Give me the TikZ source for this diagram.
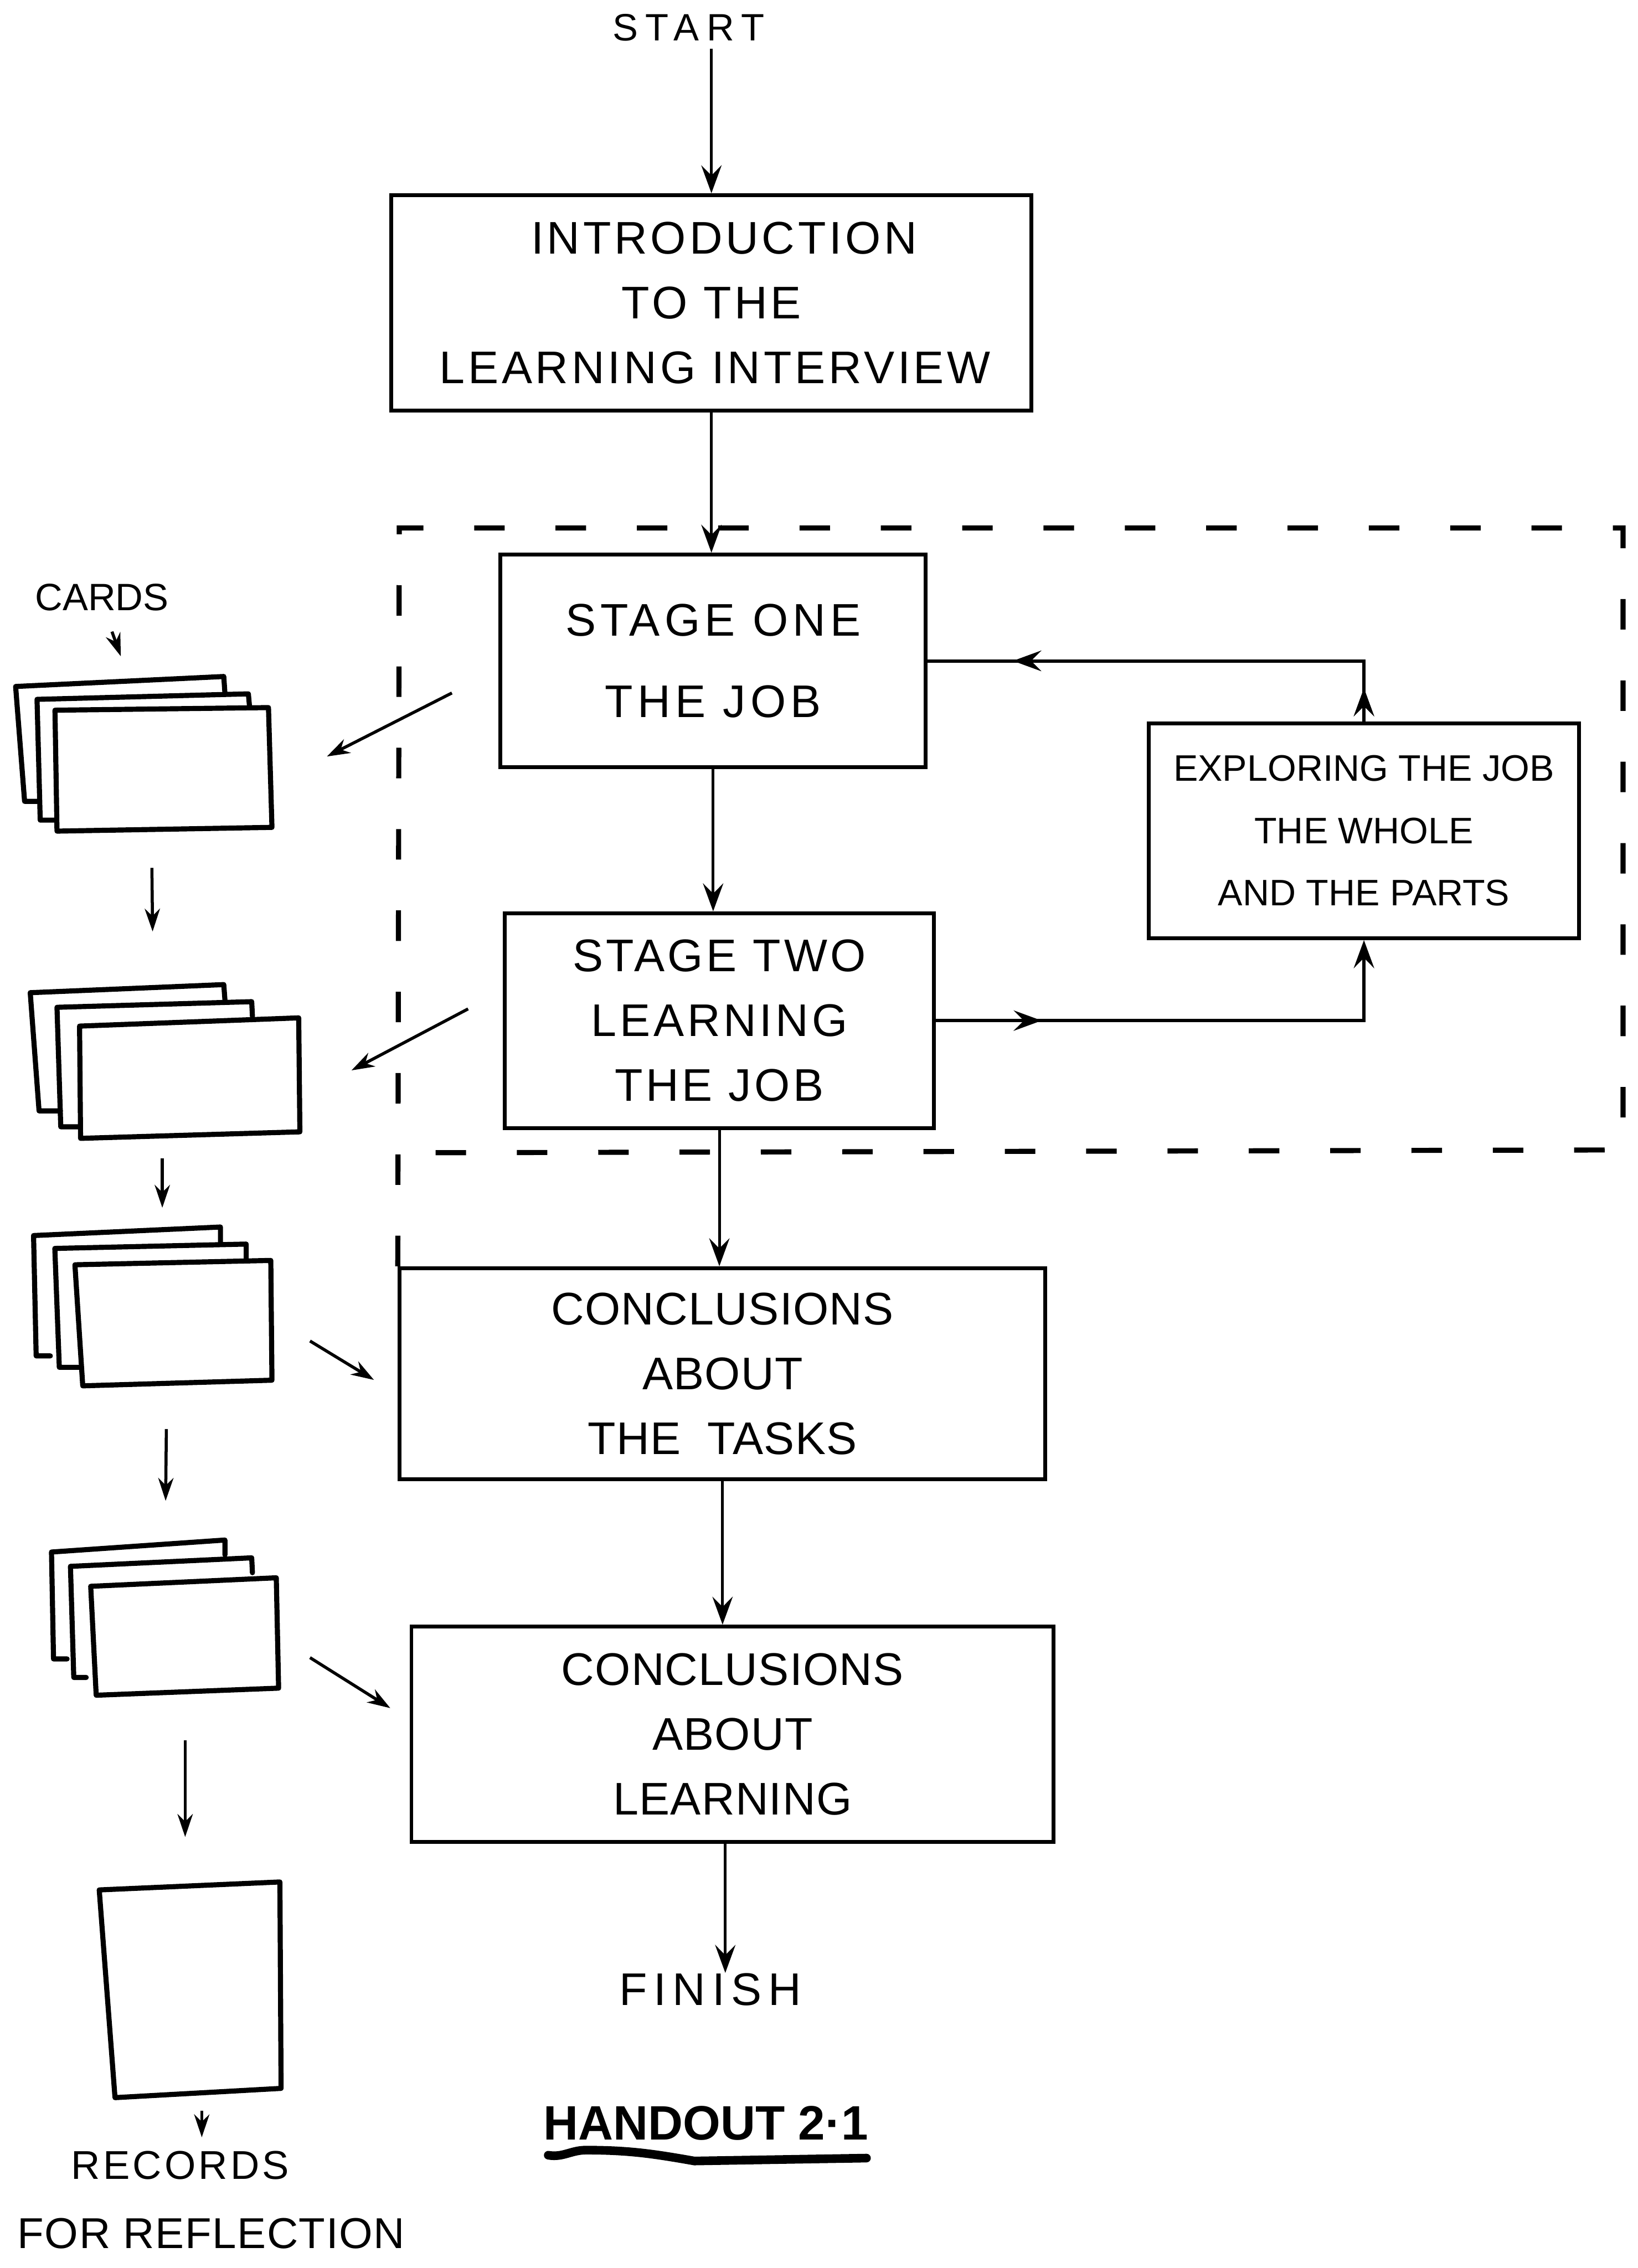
\documentclass[tikz,border=0pt]{standalone}
\usepackage{fontspec}
\setmainfont{Liberation Sans}
\usetikzlibrary{arrows.meta,decorations.markings}

% letter-spaced sans at a given size / line distance / spacing
\newcommand{\handfont}[3]{\fontsize{#1}{#2}\selectfont\addfontfeature{LetterSpace=#3}}

\tikzset{
  box/.style={draw, line width=1.5pt, inner sep=0pt, align=center,
              font=\handfont{18}{25.5}{0}},
  lbl/.style={inner sep=0pt, align=center},
  flow/.style={line width=1.1pt, -{Stealth[length=11pt,width=8pt,inset=4pt]}},
  small/.style={line width=1.2pt, -{Stealth[length=9pt,width=6pt]}},
  card/.style={line width=2pt, line join=round, line cap=round},
  frame/.style={line width=2pt, dash pattern=on 12pt off 20pt},
  midtip/.style={postaction={decorate}, decoration={markings,
      mark=at position #1 with {\arrow{Stealth[length=11pt,width=8pt,inset=4pt]}}}}
}

\begin{document}
\begin{tikzpicture}[x=0.02cm, y=-0.02cm]
  \useasboundingbox (0,0) rectangle (1132,1568);

  % ---- main flow boxes ----
  \node[box, minimum width=8.85cm, minimum height=2.98cm, font=\handfont{18}{25.5}{7}]
       (intro) at (491.8,209.4)
       {\hspace*{0.35cm}INTRODUCTION\\TO THE\\\hspace*{0.1cm}LEARNING INTERVIEW};
  \node[box, minimum width=5.88cm, minimum height=2.94cm, font=\handfont{18}{32}{10}]
       (one) at (493,456.9)
       {STAGE ONE\\THE JOB};
  \node[box, minimum width=5.94cm, minimum height=2.97cm, font=\handfont{18}{25.5}{7}]
       (two) at (497.3,705.6)
       {STAGE TWO\\LEARNING\\THE JOB};
  \node[box, minimum width=5.95cm, minimum height=2.97cm, font=\handfont{14.5}{24.5}{0}]
       (explore) at (942.9,574.4)
       {EXPLORING THE JOB\\THE WHOLE\\AND THE PARTS};
  \node[box, minimum width=8.93cm, minimum height=2.92cm, font=\handfont{18}{25.5}{1.5}]
       (tasks) at (499.5,949.7)
       {CONCLUSIONS\\ABOUT\\THE~~TASKS};
  \node[box, minimum width=8.88cm, minimum height=2.98cm, font=\handfont{18}{25.5}{1.5}]
       (learn) at (506.4,1199)
       {CONCLUSIONS\\ABOUT\\LEARNING};

  % ---- free labels ----
  \node[lbl, font=\handfont{15}{18}{20}] (start) at (476,19) {START};
  \node[lbl, font=\handfont{18}{22}{14}] (finish) at (491,1375.5) {FINISH};
  \node[lbl, font=\bfseries\fontsize{19}{22}\selectfont] (handout) at (488,1468) {HANDOUT 2·1};
  \node[lbl, font=\handfont{15}{18}{0}] (cards) at (70.4,413) {CARDS};
  \node[lbl, font=\handfont{15.8}{18}{7}] (records) at (124.6,1497) {RECORDS};
  \node[lbl, font=\handfont{17}{20}{2}] (reflect) at (146,1544) {FOR REFLECTION};

  % ---- dashed frame round the two stages ----
  \draw[frame] (tasks.north west) -- (276,365) -- (1122,365) -- (1122,795) -- (276,797);

  % ---- main flow ----
  \draw[flow] (intro.north |- start.south) ++(0,5) -- (intro.north);
  \draw[flow] (intro.south) -- (intro.south |- one.north);
  \draw[flow] (one.south) -- (one.south |- two.north);
  \draw[flow] (two.south) -- (two.south |- tasks.north);
  \draw[flow] (tasks.south) -- (tasks.south |- learn.north);
  \draw[flow] ([xshift=-0.1cm]learn.south) -- ([xshift=-0.1cm]learn.south |- finish.north);

  % ---- loop between the stages and exploring ----
  \draw[line width=1.3pt, midtip=1.46cm, -{Stealth[length=11pt,width=8pt,inset=4pt]}]
       (two.east) -| (explore.south);
  \draw[line width=1.3pt, midtip=0.46cm, midtip=5.69cm] (explore.north) |- (one.east);

  % ---- card stacks ----
  % stack 1
  \draw[card] (25.6,554) -- (17,554) -- (10.8,474.6) -- (154.7,467.7) -- (155.5,479.5);
  \draw[card] (38,567) -- (27.8,567) -- (25.6,483.5) -- (171.7,479.7) -- (172.5,488.5);
  \draw[card] (38,491) -- (185.6,489.2) -- (188,572) -- (39.4,574.6) -- cycle;
  % stack 2
  \draw[card] (41.8,768) -- (27,768) -- (20.9,686.3) -- (154.7,680.7) -- (155.5,691.4);
  \draw[card] (54,779) -- (42,779) -- (39.4,696.4) -- (174,692.5) -- (174.5,702.6);
  \draw[card] (55,709.4) -- (206.5,703.7) -- (207.3,782.5) -- (55.7,787) -- cycle;
  % stack 3
  \draw[card] (34.8,937.4) -- (25,937.4) -- (23.2,854.2) -- (152.4,848.3) -- (152.4,858.6);
  \draw[card] (54.9,945.3) -- (41,945.3) -- (37.9,863.1) -- (170.2,860.1) -- (170.2,870.4);
  \draw[card] (51.8,874.4) -- (187.2,871.4) -- (188,954.2) -- (57.2,958.1) -- cycle;
  % stack 4
  \draw[card] (46.4,1146.9) -- (37,1146.9) -- (35.6,1073) -- (155.5,1064.7) -- (155.5,1075);
  \draw[card] (59.6,1159.7) -- (51,1159.7) -- (48.7,1082.9) -- (174,1077) -- (174.5,1087.3);
  \draw[card] (62.7,1096.7) -- (191,1090.8) -- (192.6,1167.1) -- (66.5,1172) -- cycle;
  % record sheet
  \draw[card] (68.6,1306.6) -- (193.5,1301.1) -- (194.3,1443.8) -- (79.5,1450.2) -- cycle;

  % ---- arrow end points on the card side ----
  \coordinate (cardsTip) at (83.5,453.7);
  \coordinate (s1s2a) at (105,600);   \coordinate (s1s2b) at (105.5,644);
  \coordinate (s2s3a) at (112.2,801); \coordinate (s2s3b) at (112.2,835);
  \coordinate (s3s4a) at (115,988);   \coordinate (s3s4b) at (114.5,1037.6);
  \coordinate (s4ra)  at (128,1203);  \coordinate (s4rb)  at (128,1270);
  \coordinate (recTip) at (139.5,1477.6);
  \coordinate (oneOut) at (312.4,479.1); \coordinate (card1In) at (226,523);
  \coordinate (twoOut) at (323.6,697.5); \coordinate (card2In) at (243,740);
  \coordinate (card3Out) at (214.3,927.1); \coordinate (tasksIn) at (258.5,954);
  \coordinate (card4Out) at (214.3,1146);  \coordinate (learnIn) at (269.8,1180.9);

  \draw[small] (cards.south) ++(7,14) -- (cardsTip);
  \draw[small] (s1s2a) -- (s1s2b);
  \draw[small] (s2s3a) -- (s2s3b);
  \draw[small] (s3s4a) -- (s3s4b);
  \draw[small] (s4ra) -- (s4rb);
  \draw[small] (139.5,1459.4) -- (recTip);
  \draw[small] (oneOut) -- (card1In);
  \draw[small] (twoOut) -- (card2In);
  \draw[small] (card3Out) -- (tasksIn);
  \draw[small] (card4Out) -- (learnIn);

  % ---- underline of the handout number ----
  \draw[line width=3.4pt, line cap=round]
       (379,1490) to[out=-10,in=180] (405,1486.5) to[out=0,in=170] (480,1494) -- (599,1492);
\end{tikzpicture}
\end{document}
